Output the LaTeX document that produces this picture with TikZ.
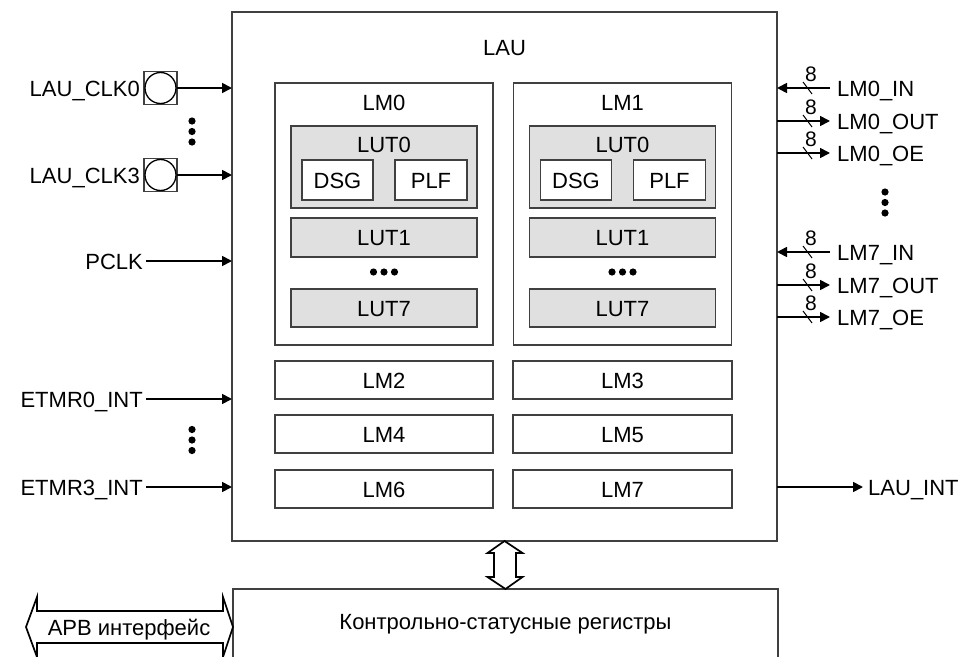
\documentclass[tikz,border=0pt]{standalone}
\usepackage{fontspec}
\setmainfont{Liberation Sans}
\usetikzlibrary{arrows.meta}
\tikzset{
  blk/.style={draw=black!75, line width=1.3pt, inner sep=0pt, outer sep=0pt,
    text height=16pt, text depth=0pt},
  lut/.style={blk, fill=black!12},
  txt/.style={inner sep=0pt, text height=16pt, text depth=0pt},
  sig/.style={line width=1.7pt, -{Triangle[length=10pt,width=10pt]}},
  hollow/.style={line width=1.7pt, fill=white, line join=miter},
  bus/.style={line width=1pt},
}
\begin{document}
\begin{tikzpicture}[x=1pt,y=-1pt,font=\fontsize{22}{26}\selectfont]
\useasboundingbox (0,0) rectangle (966,656);
\clip (0,0) rectangle (966,656);
% LAU block
\node[blk,minimum width=545,minimum height=529] (lau) at (504.5,276.5) {};
\node[txt] (lautxt) at (504.5,47) {LAU};
% LM0 and LM1 with their LUTs
\foreach \n/\x in {0/384,1/622.5}{
  \node[blk,minimum width=218,minimum height=262] (lm\n) at (\x,214) {};
  \node[txt] (lm\n txt) at (\x,102) {LM\n};
  \node[lut,minimum width=186,minimum height=82] (lut0\n) at (\x,167) {};
  \node[txt] (lut0\n txt) at (\x,144) {LUT0};
  \node[blk,fill=white,minimum width=71,minimum height=40] (dsg\n) at (\x-46.5,180) {DSG};
  \node[blk,fill=white,minimum width=72,minimum height=40] (plf\n) at (\x+47,180) {PLF};
  \node[lut,minimum width=186,minimum height=39] (lut1\n) at (\x,237.5) {LUT1};
  \foreach \d in {-10.5,0,10.5}
    \fill (\x+\d,272) circle (3.6);
  \node[lut,minimum width=186,minimum height=38] (lut7\n) at (\x,308) {LUT7};
}
% LM2 .. LM7
\foreach \a/\b/\y in {2/3/380,4/5/434,6/7/489}{
  \node[blk,minimum width=218,minimum height=38] (lm\a) at (384,\y) {LM\a};
  \node[blk,minimum width=219,minimum height=38] (lm\b) at (622.5,\y) {LM\b};
}
% clock inputs
\foreach \c/\y in {0/88,3/175}{
  \node[blk,minimum size=33] (clk\c) at (160.5,\y) {};
  \draw[line width=1.3pt] (clk\c) circle (15.5);
  \node[txt,anchor=east] (clk\c txt) at (140,\y) {LAU\_CLK\c};
  \draw[sig] (clk\c.east) -- (lau.west |- clk\c.east);
}
\foreach \y in {121,131.5,142}
  \fill (192,\y) circle (3.6);
% other inputs
\node[txt,anchor=east] (pclk) at (143,261) {PCLK};
\node[txt,anchor=east] (etmr0) at (143,399) {ETMR0\_INT};
\node[txt,anchor=east] (etmr3) at (143,487) {ETMR3\_INT};
\foreach \s in {pclk,etmr0,etmr3}
  \draw[sig] ([xshift=3pt]\s.east) -- (lau.west |- \s.east);
\foreach \y in {429.5,440,450.5}
  \fill (192,\y) circle (3.6);
% LM pins
\foreach \m/\y in {0/88,7/252}{
  \node[txt,anchor=west] (lm\m in) at (837,\y) {LM\m\_IN};
  \node[txt,anchor=west] (lm\m out) at (837,\y+33) {LM\m\_OUT};
  \node[txt,anchor=west] (lm\m oe) at (837,\y+65) {LM\m\_OE};
  \draw[sig] ([xshift=-7pt]lm\m in.west) -- (lau.east |- lm\m in.west);
  \draw[sig] (lau.east |- lm\m out.west) -- ([xshift=-7pt]lm\m out.west);
  \draw[sig] (lau.east |- lm\m oe.west) -- ([xshift=-7pt]lm\m oe.west);
  \foreach \d in {0,33,65}{
    \draw[bus] (803,\y+\d-6) -- (812,\y+\d+6);
    \node[txt,font=\fontsize{21}{24}\selectfont] at (811,\y+\d-15) {8};
  }
}
\foreach \y in {192,202.5,213}
  \fill (885,\y) circle (3.6);
% interrupt output
\node[txt,anchor=west] (lauint) at (868,487) {LAU\_INT};
\draw[sig] (lau.east |- lauint.west) -- ([xshift=-5pt]lauint.west);
% registers
\node[blk,minimum width=545,minimum height=76] (reg) at (505.5,627) {};
\node[txt] (regtxt) at (505.5,621) {Контрольно-статусные регистры};
\draw[hollow] (lau.south) -- ++(18,12) -- ++(-6.5,0) -- ++(0,24) -- ++(6.5,0)
  -- (reg.north) -- ++(-18,-12) -- ++(6.5,0) -- ++(0,-24) -- ++(-6.5,0) -- cycle;
% APB bus
\draw[hollow] (reg.west) -- ++(-10,-30) -- ++(0,14) -- ++(-186,0) -- ++(0,-14)
  -- ++(-11,30) -- ++(11,30) -- ++(0,-14) -- ++(186,0) -- ++(0,14) -- cycle;
\node[txt] (apb) at (129,627) {APB интерфейс};
\end{tikzpicture}
\end{document}
